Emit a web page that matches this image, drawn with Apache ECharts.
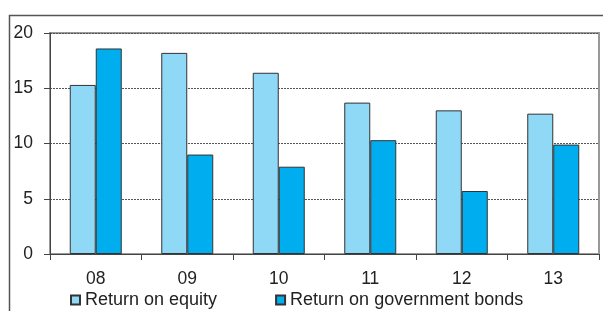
<!DOCTYPE html>
<html>
<head>
<meta charset="utf-8">
<script src="https://cdn.jsdelivr.net/npm/echarts@6/dist/echarts.min.js"></script>
<style>
  html, body { margin: 0; padding: 0; background: #fff; }
  #chart { width: 603px; height: 311px; }
</style>
</head>
<body>
<div id="chart"></div>
<script>
const years = ['08', '09', '10', '11', '12', '13']
const equityReturn = [15.3, 18.2, 16.4, 13.7, 13.0, 12.7]
const bondReturn = [18.6, 9.0, 7.9, 10.3, 5.7, 9.9]
const seriesNames = ['Return on equity', 'Return on government bonds']

const font = 'Liberation Sans, Arial, sans-serif'

const chart = echarts.init(document.getElementById('chart'))

const option = {
  animation: false,
  textStyle: { fontFamily: font },
  graphic: [
    {
      // outer frame, runs off the right and bottom edges
      type: 'rect',
      shape: { x: 9.5, y: 15.5, width: 620, height: 320 },
      style: { fill: 'none', stroke: '#555', lineWidth: 1.5 },
      z: -1
    }
  ],
  grid: {
    left: 50,
    right: 4,
    top: 33,
    bottom: 57,
    show: true,
    borderColor: '#999',
    borderWidth: 2
  },
  legend: {
    left: 65,
    top: 286,
    itemWidth: 9,
    itemHeight: 9,
    itemGap: 58,
    itemTextGap: 4,
    icon: 'rect',
    textStyle: { fontSize: 18, color: '#222', fontFamily: font },
    data: seriesNames
  },
  xAxis: {
    type: 'category',
    data: years,
    axisLine: { lineStyle: { color: '#444', width: 1 } },
    axisTick: { show: true, length: 6, lineStyle: { color: '#444' } },
    axisLabel: { fontSize: 17.5, color: '#222', margin: 16 }
  },
  yAxis: {
    type: 'value',
    min: 0,
    max: 20,
    interval: 5,
    axisLine: { show: true, lineStyle: { color: '#444', width: 1 } },
    axisTick: { show: true, length: 6, lineStyle: { color: '#444' } },
    axisLabel: { fontSize: 17.5, color: '#222', margin: 17 },
    splitLine: { show: true, lineStyle: { color: '#555', type: [2, 1], width: 1 } }
  },
  series: [
    {
      name: seriesNames[0],
      type: 'bar',
      data: equityReturn,
      barWidth: 26,
      barGap: '0%',
      itemStyle: { color: '#8fd8f6', borderColor: '#333', borderWidth: 1 }
    },
    {
      name: seriesNames[1],
      type: 'bar',
      data: bondReturn,
      barWidth: 26,
      barGap: '0%',
      itemStyle: { color: '#00aeef', borderColor: '#333', borderWidth: 1 }
    }
  ]
}

chart.setOption(option)
</script>
</body>
</html>
